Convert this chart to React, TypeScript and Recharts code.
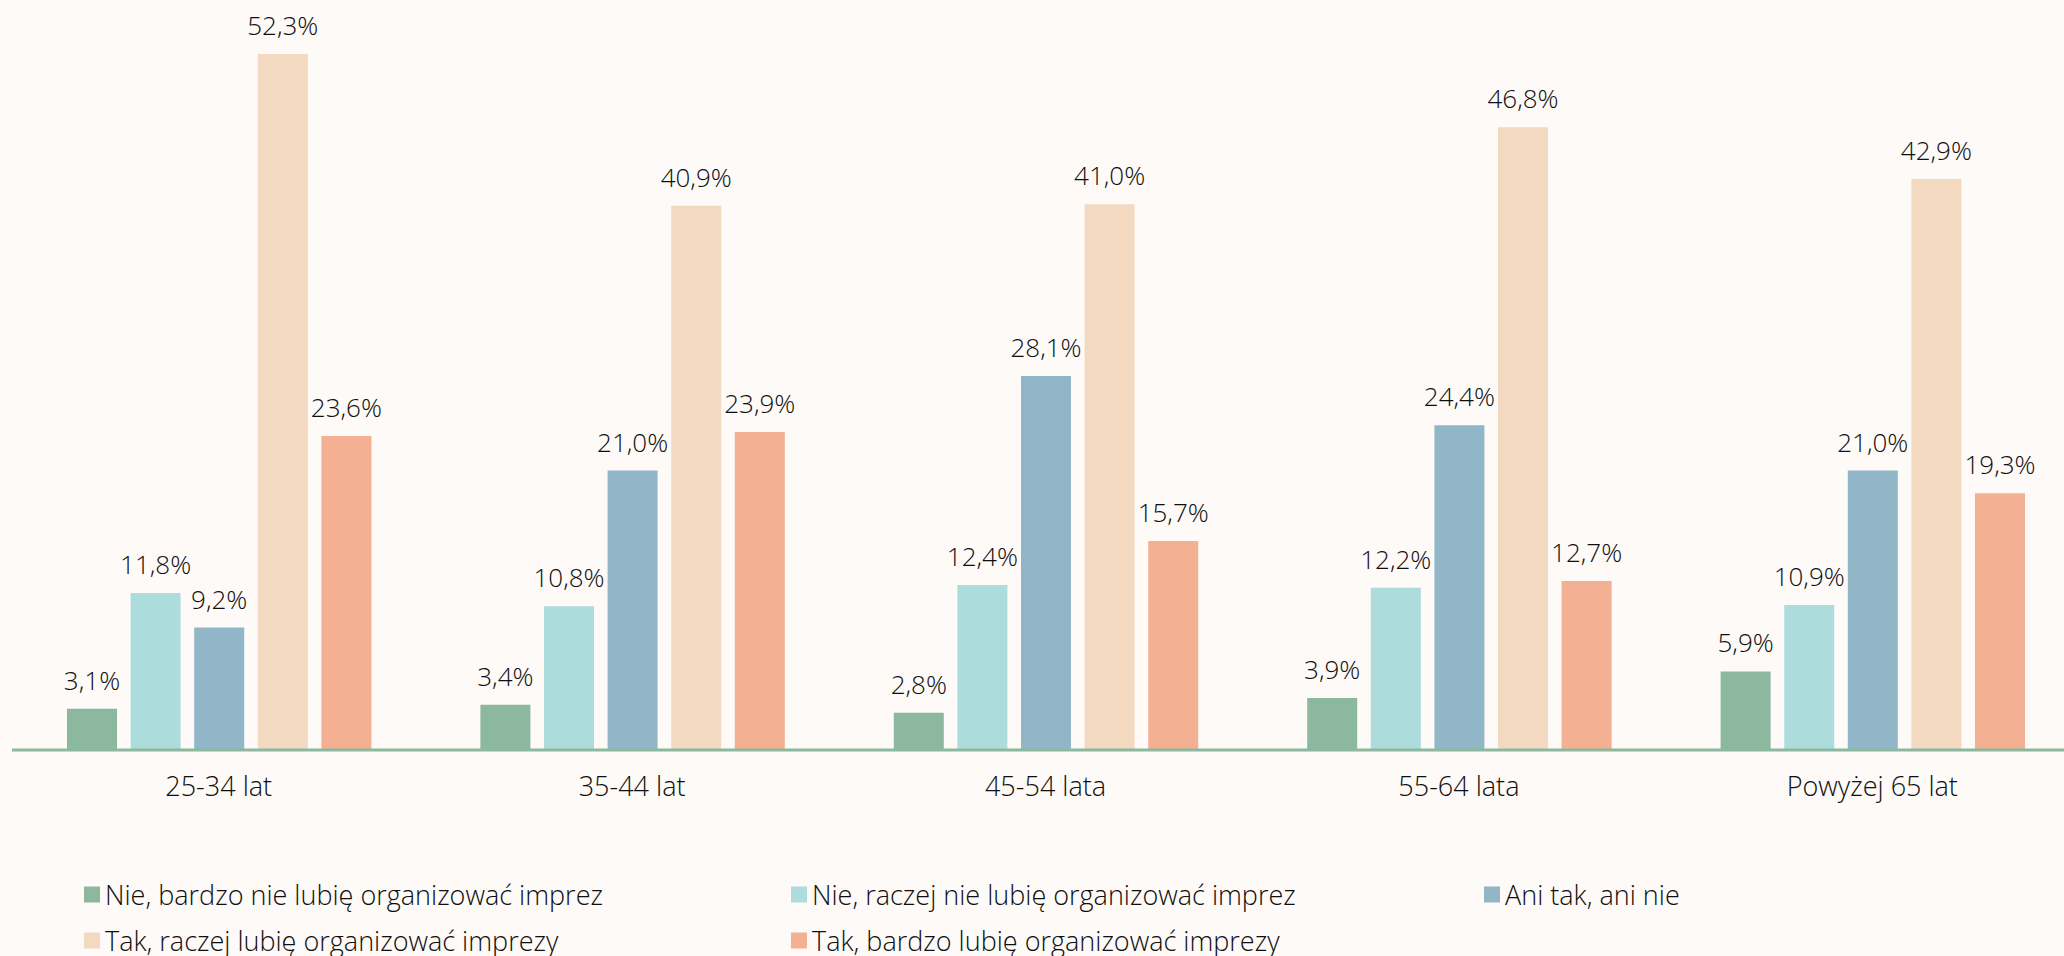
import { Bar, BarChart, LabelList, XAxis, YAxis } from "recharts";

const CATEGORIES = ["25-34 lat", "35-44 lat", "45-54 lata", "55-64 lata", "Powyżej 65 lat"];

const SERIES_NAMES = [
  "Nie, bardzo nie lubię organizować imprez",
  "Nie, raczej nie lubię organizować imprez",
  "Ani tak, ani nie",
  "Tak, raczej lubię organizować imprezy",
  "Tak, bardzo lubię organizować imprezy",
];

const VERY_NO = [3.1, 3.4, 2.8, 3.9, 5.9];
const RATHER_NO = [11.8, 10.8, 12.4, 12.2, 10.9];
const NEUTRAL = [9.2, 21.0, 28.1, 24.4, 21.0];
const RATHER_YES = [52.3, 40.9, 41.0, 46.8, 42.9];
const VERY_YES = [23.6, 23.9, 15.7, 12.7, 19.3];

const SERIES_VALUES = [VERY_NO, RATHER_NO, NEUTRAL, RATHER_YES, VERY_YES];
const COLORS = ["#8DB8A0", "#ADDCDC", "#91B6C8", "#F3D9C0", "#F4B093"];

const FONT = "'Open Sans', Lato, sans-serif";
const TEXT_COLOR = "#0f0f0f";
const BG = "#FDFAF7";

const data = CATEGORIES.map((name, i) => {
  const row: Record<string, string | number> = { name };
  SERIES_VALUES.forEach((values, s) => {
    row[`s${s}`] = values[i];
  });
  return row;
});

const fmt = (v: number) => `${v.toFixed(1).replace(".", ",")}%`;

function ValueLabel(props: any) {
  const { x, y, width, value } = props;
  return (
    <text
      x={x + width / 2}
      y={y - 19}
      textAnchor="middle"
      fontFamily={FONT}
      fontWeight={300}
      fontSize={26}
      fill={TEXT_COLOR}
    >
      {fmt(Number(value))}
    </text>
  );
}

function CategoryTick(props: any) {
  const { x, y, payload } = props;
  return (
    <text x={x} y={y + 46} textAnchor="middle" fontFamily={FONT} fontWeight={300} fontSize={27} fill={TEXT_COLOR}>
      {payload.value}
    </text>
  );
}

const LEGEND_POS = [
  { left: 84, top: 894 },
  { left: 791, top: 894 },
  { left: 1484, top: 894 },
  { left: 84, top: 940 },
  { left: 791, top: 940 },
];

export default function App() {
  return (
    <div
      style={{
        position: "absolute",
        left: 0,
        top: 0,
        width: 2064,
        height: 956,
        background: BG,
        overflow: "hidden",
      }}
    >
      <BarChart
        width={2100}
        height={956}
        data={data}
        margin={{ top: 18, right: 21, left: 12, bottom: 146 }}
        barGap={13.6}
        barSize={50}
      >
        <XAxis
          dataKey="name"
          height={60}
          tickLine={false}
          tickSize={0}
          tickMargin={0}
          axisLine={{ stroke: "#8DB8A0", strokeWidth: 3 }}
          tick={<CategoryTick />}
        />
        <YAxis domain={[0, 55]} hide />
        {SERIES_NAMES.map((name, s) => (
          <Bar key={name} dataKey={`s${s}`} name={name} fill={COLORS[s]} isAnimationActive={false}>
            <LabelList dataKey={`s${s}`} content={<ValueLabel />} />
          </Bar>
        ))}
      </BarChart>
      {SERIES_NAMES.map((name, s) => (
        <div
          key={name}
          style={{
            position: "absolute",
            left: LEGEND_POS[s].left,
            top: LEGEND_POS[s].top,
            transform: "translateY(-50%)",
            display: "flex",
            alignItems: "center",
            fontFamily: FONT,
            fontWeight: 300,
            fontSize: 27,
            lineHeight: 1,
            color: TEXT_COLOR,
            whiteSpace: "nowrap",
          }}
        >
          <span style={{ width: 16, height: 16, background: COLORS[s], marginRight: 5, display: "inline-block" }} />
          <span>{name}</span>
        </div>
      ))}
    </div>
  );
}
